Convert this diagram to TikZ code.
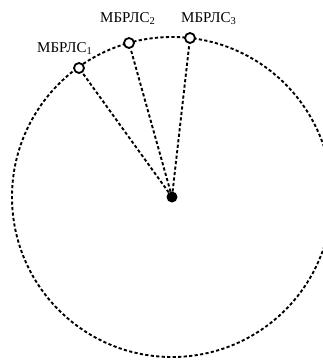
\documentclass[tikz,border=0pt]{standalone}
\usepackage{fontspec}
\setmainfont{Liberation Serif}
\begin{document}
\begin{tikzpicture}[x=1pt,y=-1pt,
  ring/.style={line width=1.9pt,dash pattern=on 3.2pt off 2.3pt},
  ray/.style={line width=1.9pt,dash pattern=on 3.2pt off 2.3pt},
  station/.style={circle,draw,fill=white,line width=1.8pt,inner sep=0pt,minimum size=10pt},
  hub/.style={circle,fill=black,inner sep=0pt,minimum size=11pt},
  lbl/.style={font=\fontsize{15}{17}\selectfont,anchor=base west,inner sep=0pt}]
\useasboundingbox (0,0) rectangle (323,362);
\begin{scope}
\clip (0,0) rectangle (323,362);
\draw[ring] (172,197) circle (160);
\end{scope}
\coordinate (c) at (172,197);
\node[station] (m1) at (79,68) {};
\node[station] (m2) at (129,43) {};
\node[station] (m3) at (190,38) {};
\draw[ray] (c) -- (m1);
\draw[ray] (c) -- (m2);
\draw[ray] (c) -- (m3);
\node[hub] (h) at (c) {};
\node[lbl] (l1) at (37,52.7) {МБРЛС\textsubscript{1}};
\node[lbl] (l2) at (100,22.7) {МБРЛС\textsubscript{2}};
\node[lbl] (l3) at (181,22.7) {МБРЛС\textsubscript{3}};
\end{tikzpicture}
\end{document}
